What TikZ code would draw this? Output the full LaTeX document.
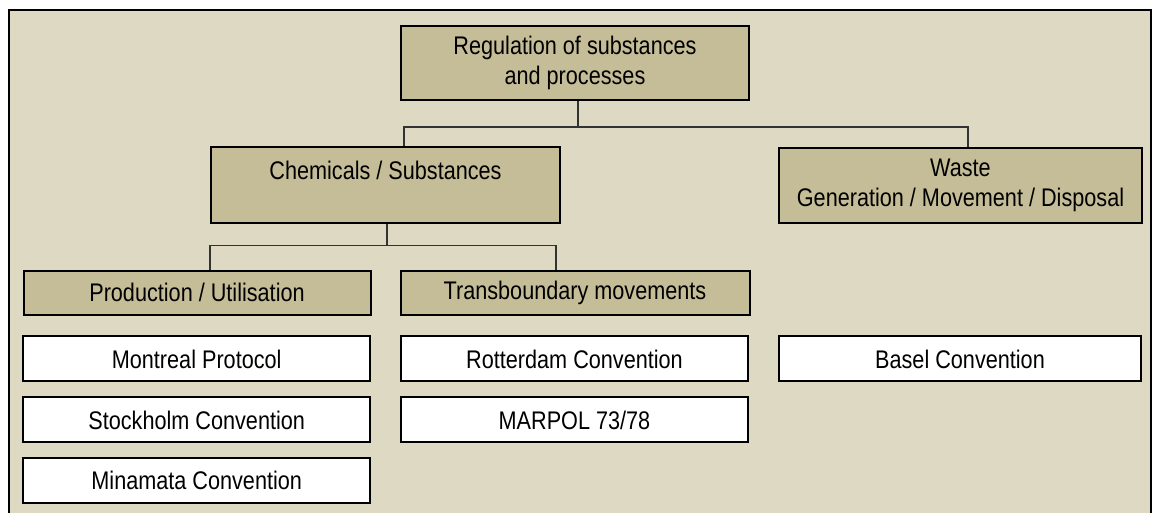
\documentclass[tikz,border=0pt]{standalone}
\usepackage{fontspec}
\setmainfont{Liberation Sans}[FakeStretch=0.85]
\usetikzlibrary{calc}
\definecolor{color_tree_bg}{HTML}{DDD9C3}
\definecolor{color_tree_box}{HTML}{C4BD97}
\definecolor{color_tree_line}{HTML}{333333}
\def\pxunit{0.75pt}
\def\boxlinewidth{1.5pt}
\tikzset{
    headbox/.style={draw, fill=color_tree_box, line width=\boxlinewidth, align=center, inner sep=0pt,
        font=\fontsize{19.1}{22.5}\selectfont},
    treatybox/.style={headbox, fill=white, minimum width=347*\pxunit, minimum height=45*\pxunit},
    branch/.style={draw=color_tree_line, line width=0.8pt},
}

\begin{document}
\begin{tikzpicture}[x=\pxunit, y=\pxunit]
        \useasboundingbox (0,0) rectangle (1157,513);
        \draw[fill=color_tree_bg, line width=1.8pt] (9,-20) rectangle (1151,503);

        % top of the tree
        \node[headbox, minimum width=348*\pxunit, minimum height=74*\pxunit] (regulation) at (575,450)
            {Regulation of substances\\and processes};
        \node[headbox, minimum width=349*\pxunit, minimum height=76*\pxunit] (chemicals) at (385.5,328)
            {Chemicals / Substances\\\phantom{X}};
        \node[headbox, minimum width=363*\pxunit, minimum height=75*\pxunit] (waste) at (960.5,327.5)
            {Waste\\Generation / Movement / Disposal};
        \node[headbox, minimum width=347*\pxunit, minimum height=44*\pxunit] (production) at (197,220.3)
            {Production / Utilisation};
        \node[headbox, minimum width=349*\pxunit, minimum height=44*\pxunit] (transboundary) at (575,220)
            {Transboundary movements};

        % conventions
        \node[treatybox] (montreal) at (196.7,154) {Montreal Protocol};
        \node[treatybox] (stockholm) at (196.7,93) {Stockholm Convention};
        \node[treatybox] (minamata) at (196.7,32.3) {Minamata Convention};
        \node[treatybox] (rotterdam) at (574.5,154) {Rotterdam Convention};
        \node[treatybox] (marpol) at (574.5,93) {MARPOL 73/78};
        \node[treatybox, minimum width=362*\pxunit] (basel) at (960,154) {Basel Convention};

        % branches
        \draw[branch] ($(regulation.south)+(3,0)$) -- ++(0,-26) coordinate (bus_top);
        \draw[branch] ($(chemicals.north)+(18.5,0)$) |- (bus_top) -| ($(waste.north)+(7.5,0)$);
        \draw[branch] ($(chemicals.south)+(1.5,0)$) -- ++(0,-21.5) coordinate (bus_chem);
        \draw[branch] ($(production.north)+(13,0)$) |- (bus_chem) -| ($(transboundary.north)+(-19,0)$);
    \end{tikzpicture}
\end{document}
